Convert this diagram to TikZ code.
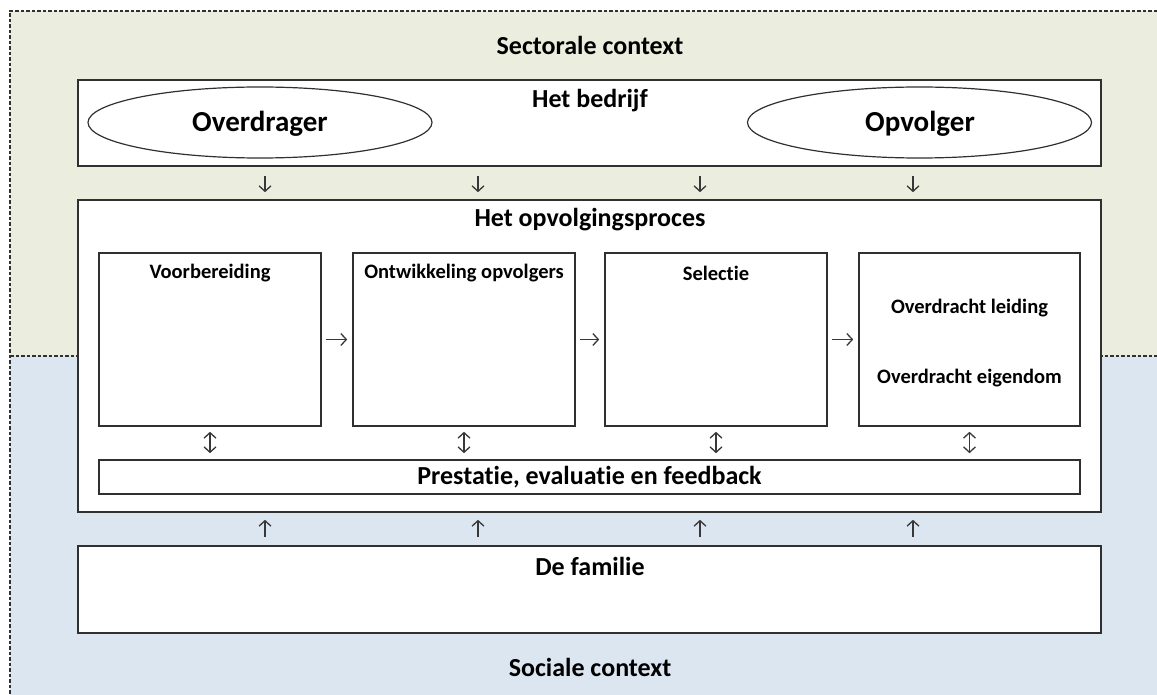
\documentclass[tikz,border=0pt]{standalone}
\usepackage{fontspec}
\setmainfont{Carlito}[Ligatures=NoCommon]
\usetikzlibrary{arrows.meta,shapes.geometric}
\definecolor{sectgreen}{HTML}{EBEEDE}
\definecolor{socblue}{HTML}{DCE6F1}
\definecolor{edge}{HTML}{303030}
\definecolor{arrowc}{HTML}{383838}
\tikzset{
  box/.style={draw=edge,line width=1.6pt,fill=white,rectangle,inner sep=0pt},
  oval/.style={draw=edge,line width=1.2pt,fill=white,ellipse,inner sep=0pt,minimum width=344pt,minimum height=71pt},
  tip/.tip={Straight Barb[length=5.5pt,width=12pt]},
  arr/.style={draw=arrowc,line width=1.3pt,-tip},
  darr/.style={draw=arrowc,line width=1.3pt,tip-tip},
  ctx/.style={font=\bfseries\fontsize{26}{30}\selectfont,inner sep=0pt},
  ttl/.style={font=\bfseries\fontsize{26}{30}\selectfont,inner sep=0pt},
  sub/.style={font=\bfseries\fontsize{20.5}{24}\selectfont,inner sep=0pt},
  big/.style={font=\bfseries\fontsize{29}{34}\selectfont,inner sep=0pt},
  ctxline/.style={draw=edge,line width=1.3pt,dash pattern=on 3.5pt off 2pt}
}
\begin{document}
\begin{tikzpicture}[x=1pt,y=-1pt]
\useasboundingbox (0,0) rectangle (1157,695);
% context backgrounds
\fill[sectgreen] (10,11) rectangle (1157,356);
\fill[socblue] (10,356) rectangle (1157,695);
\draw[ctxline] (1157,11) -- (10,11) -- (10,695);
\draw[ctxline] (10,356) -- (1157,356);
\node[ctx] (sect) at (590,45) {Sectorale context};
\node[ctx] (soc) at (590,667) {Sociale context};
% het bedrijf
\node[box,minimum width=1023pt,minimum height=86pt] (bedrijf) at (589.5,123) {};
\node[ttl] (bedrijft) at (590,101) {Het bedrijf};
\node[oval] (overdrager) at (260,122.5) {};
\node[big] (overdragert) at (260,124) {Overdrager};
\node[oval] (opvolger) at (919.5,122.5) {};
\node[big] (opvolgert) at (920,124) {Opvolger};
% het opvolgingsproces
\node[box,minimum width=1023pt,minimum height=312pt] (proces) at (589.5,356) {};
\node[ttl] (procest) at (590,220) {Het opvolgingsproces};
\node[box,minimum width=222pt,minimum height=173pt] (s1) at (210,339.5) {};
\node[box,minimum width=222pt,minimum height=173pt] (s2) at (464,339.5) {};
\node[box,minimum width=222pt,minimum height=173pt] (s3) at (716,339.5) {};
\node[box,minimum width=221pt,minimum height=173pt] (s4) at (969.5,339.5) {};
\node[sub] (s1t) at (210,273) {Voorbereiding};
\node[sub] (s2t) at (464,273) {Ontwikkeling opvolgers};
\node[sub] (s3t) at (716,273) {Selectie};
\node[sub] (s4a) at (969.5,308) {Overdracht leiding};
\node[sub] (s4b) at (969.5,378) {Overdracht eigendom};
\node[box,minimum width=981pt,minimum height=34pt] (prest) at (589.5,477) {};
\node[ttl] (prestt) at (589.5,477.5) {Prestatie, evaluatie en feedback};
% de familie
\node[box,minimum width=1023pt,minimum height=87pt] (familie) at (589.5,589.5) {};
\node[ttl] (familiet) at (590,566) {De familie};
% arrow columns
\coordinate (c1) at (265,0);
\coordinate (c2) at (478,0);
\coordinate (c3) at (700,0);
\coordinate (c4) at (913,0);
\foreach \c in {c1,c2,c3,c4}{
  \draw[arr,shorten <=9pt,shorten >=7pt] (bedrijf.south -| \c) -- (proces.north -| \c);
  \draw[arr,shorten <=8pt,shorten >=7pt] (familie.north -| \c) -- (proces.south -| \c);
}
\foreach \a/\b in {s1/s2,s2/s3,s3/s4}{
  \draw[arr,shorten <=4pt,shorten >=5pt] (\a.east) -- (\b.west);
}
\foreach \s in {s1,s2,s3,s4}{
  \draw[darr,shorten <=5pt,shorten >=6pt] (\s.south) -- (prest.north -| \s.south);
}
\end{tikzpicture}
\end{document}
